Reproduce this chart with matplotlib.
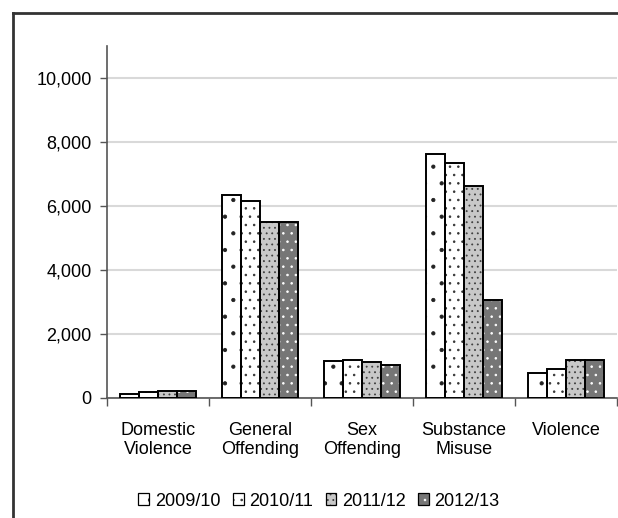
import numpy as np
import matplotlib
matplotlib.use("Agg")
from matplotlib import pyplot as plt
from matplotlib.patches import Patch
from matplotlib.legend_handler import HandlerTuple
from matplotlib.lines import Line2D
from matplotlib.ticker import FuncFormatter

plt.rcParams['font.family'] = ['Liberation Sans', 'DejaVu Sans']
plt.rcParams['hatch.linewidth'] = 0.6

categories = ["Domestic\nViolence", "General\nOffending", "Sex\nOffending",
              "Substance\nMisuse", "Violence"]
years = ["2009/10", "2010/11", "2011/12", "2012/13"]
v_0910 = [130, 6330, 1150, 7630, 770]
v_1011 = [190, 6170, 1200, 7330, 920]
v_1112 = [220, 5510, 1120, 6620, 1180]
v_1213 = [220, 5510, 1030, 3060, 1180]
series = [v_0910, v_1011, v_1112, v_1213]

# fill, hatch, hatch colour per year
styles = [("white", ".", "#222222"),
          ("white", "..", "#333333"),
          ("#c8c8c8", "...", "#404040"),
          ("#767676", "..", "white")]

fig = plt.figure(figsize=(6.18, 5.18), dpi=100)
ax = fig.add_axes([107/618, 1-398/518, 510/618, 352/518])

x = np.arange(len(categories))
w = 0.185
handles = []
for i, (vals, (fc, hatch, hc)) in enumerate(zip(series, styles)):
    pos = x + (i - 1.5) * w
    ax.bar(pos, vals, w, color=fc, hatch=hatch, edgecolor=hc, linewidth=0, zorder=2)
    ax.bar(pos, vals, w, fill=False, edgecolor="black", linewidth=1.4, zorder=3)
    handles.append((Patch(facecolor=fc, hatch=hatch, edgecolor=hc, linewidth=0),
                    Patch(fill=False, edgecolor="black", linewidth=0.9)))

ax.set_xlim(-0.5, len(categories) - 0.5)
ax.set_ylim(0, 11000)
ax.set_yticks(np.arange(0, 10001, 2000))
ax.yaxis.set_major_formatter(FuncFormatter(lambda v, p: f"{int(v):,}"))
ax.yaxis.grid(True, color="#d9d9d9", linewidth=1.5, zorder=0)
ax.set_axisbelow(True)

ax.set_xticks(x)
ax.set_xticklabels(categories, linespacing=1.15)
ax.set_xticks(np.arange(-0.5, len(categories)), minor=True)
ax.tick_params(axis="x", which="major", length=0, pad=17, labelsize=13)
ax.tick_params(axis="x", which="minor", length=6, width=1, color="#555555")
ax.tick_params(axis="y", length=5, width=1, color="#555555", labelsize=13, pad=6)

for s in ["top", "right"]:
    ax.spines[s].set_visible(False)
ax.spines["left"].set_color("#555555")
ax.spines["bottom"].set_color("#555555")
ax.spines["left"].set_linewidth(1.2)
ax.spines["bottom"].set_linewidth(1.2)

fig.legend(handles, years, handler_map={tuple: HandlerTuple(ndivide=1, pad=0)},
           loc="center", bbox_to_anchor=(319/618, 1-501/518), ncol=4,
           frameon=False, fontsize=13, handlelength=0.6, handleheight=0.6,
           handletextpad=0.3, columnspacing=0.7)

# chart border along the left and top
fig.add_artist(Line2D([12.5/618, 12.5/618], [0, 1-13/518], color="#333333", linewidth=2))
fig.add_artist(Line2D([12.5/618, 1], [1-13/518, 1-13/518], color="#333333", linewidth=2))

fig.savefig("out.png", dpi=100)
